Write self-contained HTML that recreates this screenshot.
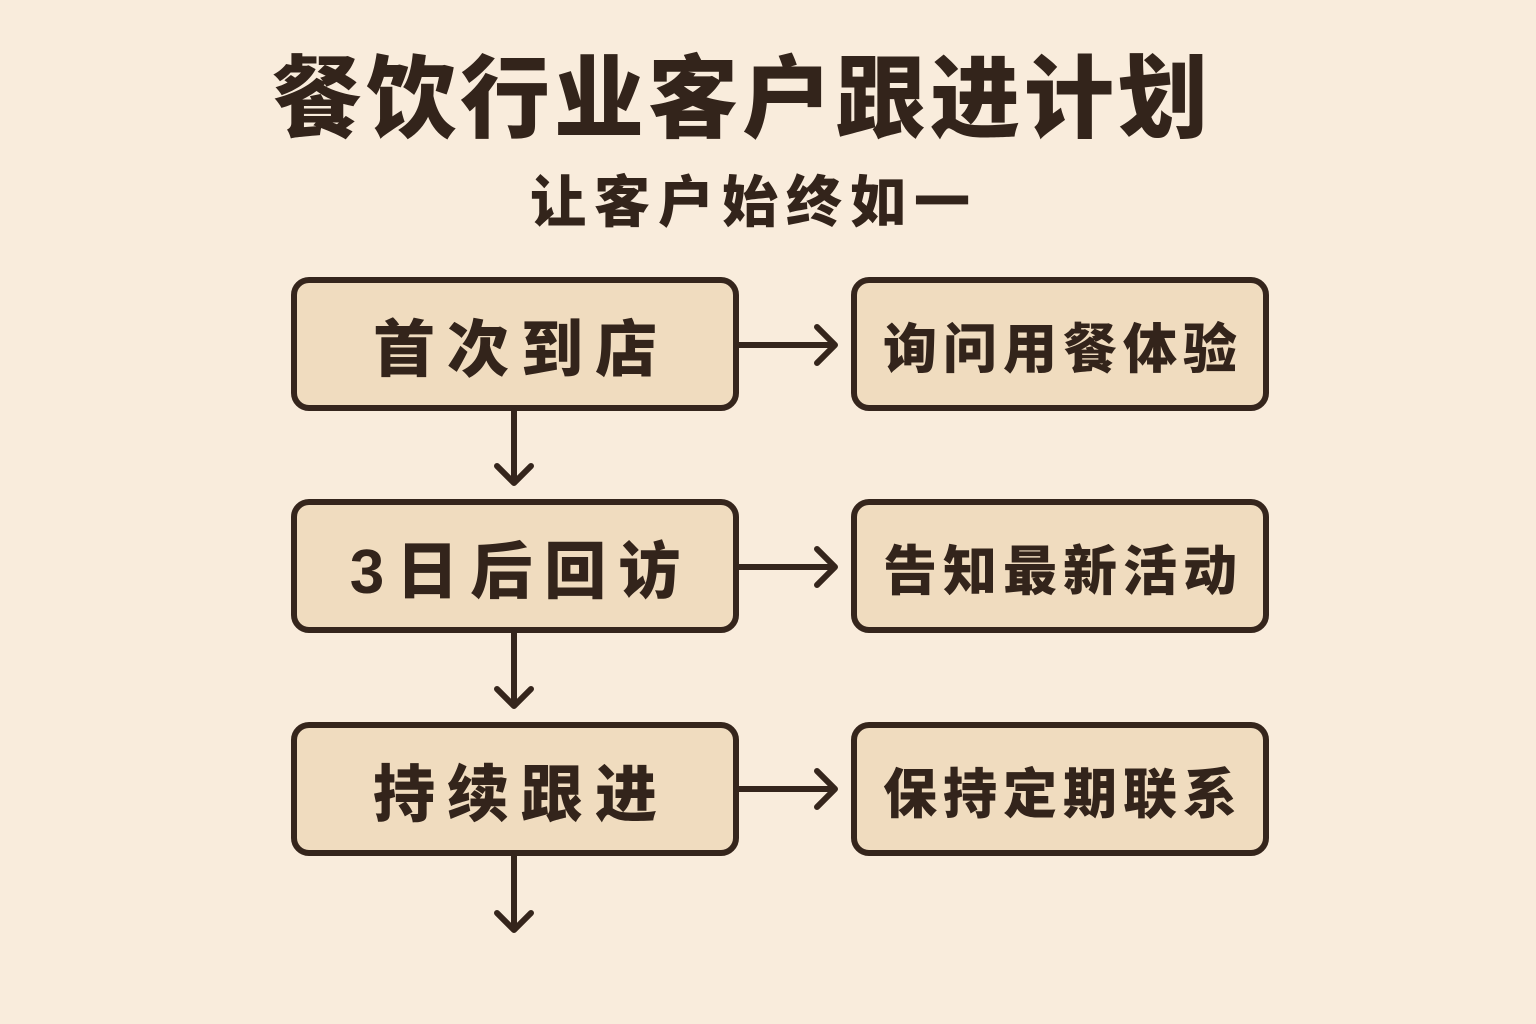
<!DOCTYPE html>
<html><head><meta charset="utf-8"><style>
body{margin:0;width:1536px;height:1024px;background:#f9ecdc;position:relative;overflow:hidden;font-family:"Liberation Sans","Noto Sans CJK SC",sans-serif;color:#33241b;}
.t{position:absolute;left:0;width:1536px;text-align:center;font-weight:900;}
.b{position:absolute;box-sizing:border-box;border:6px solid #35251c;border-radius:18px;background:#f0dcbf;display:flex;align-items:center;justify-content:center;font-weight:900;}
.l{left:291px;width:448px;height:134px;font-size:62px;letter-spacing:12px;padding-left:12px;}
.r{left:851px;width:418px;height:134px;font-size:54px;letter-spacing:6px;padding-left:6px;}
</style></head><body>
<div class="t" style="top:26px;font-size:90px;left:-26px;letter-spacing:4px;">餐饮行业客户跟进计划</div>
<div class="t" style="top:158px;font-size:56px;left:-14px;letter-spacing:8px;">让客户始终如一</div>
<div class="b l" style="top:277px">首次到店</div>
<div class="b l" style="top:499px">3日后回访</div>
<div class="b l" style="top:722px">持续跟进</div>
<div class="b r" style="top:277px">询问用餐体验</div>
<div class="b r" style="top:499px">告知最新活动</div>
<div class="b r" style="top:722px">保持定期联系</div>
<svg width="1536" height="1024" style="position:absolute;left:0;top:0" fill="none" stroke="#35251c" stroke-width="6" stroke-linecap="round" stroke-linejoin="round">
<g>
<path d="M739 345H835M817 327L835 345L817 363"/>
<path d="M739 567H835M817 549L835 567L817 585"/>
<path d="M739 789H835M817 771L835 789L817 807"/>
<path d="M514 411V483M497 466L514 483L531 466"/>
<path d="M514 633V706M497 689L514 706L531 689"/>
<path d="M514 856V930M497 913L514 930L531 913"/>
</g></svg>
</body></html>
